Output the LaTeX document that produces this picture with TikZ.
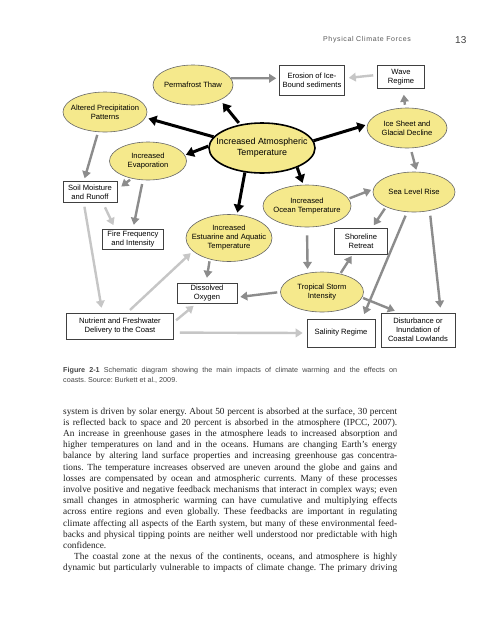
\documentclass[tikz,border=0pt]{standalone}
\usepackage{fontspec}
\setmainfont{Liberation Serif}
\setsansfont{Liberation Sans}
\newfontfamily\headfont[LetterSpace=9]{Liberation Sans}
\usetikzlibrary{arrows.meta,shapes.geometric}
\frenchspacing

\definecolor{bubblefill}{RGB}{245,233,140}
\definecolor{midgray}{RGB}{140,140,140}
\definecolor{palegray}{RGB}{198,198,198}

\tikzset{
  bubble/.style={ellipse, draw=black!60, line width=0.6pt, fill=bubblefill, inner sep=0pt},
  hub/.style={bubble, draw=black, line width=1.6pt},
  lbl/.style={font=\sffamily\fontsize{7.6}{9}\selectfont, align=center, inner sep=0pt},
  box/.style={rectangle, draw=black!75, line width=0.6pt, fill=white, inner sep=0pt,
    align=center, font=\sffamily\fontsize{7.6}{9}\selectfont},
  strong/.style={-{Triangle[length=8pt,width=10pt]}, line width=3pt, draw=black},
  mid/.style={-{Triangle[length=7pt,width=8.5pt]}, line width=2.4pt, draw=midgray},
  faint/.style={mid, draw=palegray},
  textline/.style={anchor=base west, inner sep=0pt}
}

\begin{document}
\begin{tikzpicture}[x=1pt,y=-1pt]
  \useasboundingbox (0,0) rectangle (500,625);
  \fill[white] (0,0) rectangle (500,625);

  \node[textline, text=black!65, font=\headfont\fontsize{7}{8}\selectfont] (runhead) at (323,41.5) {Physical Climate Forces};
  \node[textline, text=black!75, font=\sffamily\fontsize{10}{12}\selectfont] (folio) at (455,43) {13};

  % ellipses
  \node[hub, minimum width=106pt, minimum height=50pt,
    label={[lbl, font=\sffamily\fontsize{8.9}{11}\selectfont]center:{Increased Atmospheric\\Temperature}}] (atmos) at (262,148) {};
  \node[bubble, minimum width=80pt, minimum height=40pt, label={[lbl]center:Permafrost Thaw}] (perma) at (193,85) {};
  \node[bubble, minimum width=84pt, minimum height=40pt, label={[lbl]center:{Altered Precipitation\\Patterns}}] (precip) at (105,112) {};
  \node[bubble, minimum width=77pt, minimum height=38pt, label={[lbl]center:{Increased\\Evaporation}}] (evap) at (148,161) {};
  \node[bubble, minimum width=88pt, minimum height=42pt, label={[lbl]center:{Increased\\Ocean Temperature}}] (ocean) at (307,206) {};
  \node[bubble, minimum width=86pt, minimum height=47pt, label={[lbl]center:{Increased\\Estuarine and Aquatic\\Temperature}}] (estu) at (229,238) {};
  \node[bubble, minimum width=82pt, minimum height=40pt, label={[lbl]center:Sea Level Rise}] (sea) at (414,192) {};
  \node[bubble, minimum width=80pt, minimum height=40pt, label={[lbl]center:{Ice Sheet and\\Glacial Decline}}] (ice) at (407,128) {};
  \node[bubble, minimum width=83pt, minimum height=40pt, label={[lbl]center:{Tropical Storm\\Intensity}}] (storm) at (322,292) {};

  % boxes
  \node[box, minimum width=65pt, minimum height=30pt] (erosion) at (312,80) {Erosion of Ice-\\Bound sediments};
  \node[box, minimum width=47pt, minimum height=23pt] (wave) at (401,77) {Wave\\Regime};
  \node[box, minimum width=54pt, minimum height=21pt] (soil) at (90,192) {Soil Moisture\\and Runoff};
  \node[box, minimum width=61pt, minimum height=20pt] (fire) at (133,239) {Fire Frequency\\and Intensity};
  \node[box, minimum width=60pt, minimum height=20pt] (oxygen) at (207,293) {Dissolved\\Oxygen};
  \node[box, minimum width=53pt, minimum height=26pt] (shore) at (361,241) {Shoreline\\Retreat};
  \node[box, minimum width=107pt, minimum height=26pt] (nutrient) at (120,326) {Nutrient and Freshwater\\Delivery to the Coast};
  \node[box, minimum width=68pt, minimum height=28pt] (salinity) at (341,333) {Salinity Regime};
  \node[box, minimum width=74pt, minimum height=34pt] (disturb) at (418,330) {Disturbance or\\Inundation of\\Coastal Lowlands};

  % black arrows
  \draw[strong, shorten <=2pt, shorten >=4pt] (atmos.133) -- (perma.-29);
  \draw[strong, shorten >=3pt] (atmos.167) -- (precip.-8);
  \draw[strong, shorten >=1pt] (atmos.178) -- (evap.9);
  \draw[strong, shorten >=2pt] (atmos.8) -- (ice.175);
  \draw[strong, shorten >=2pt] (atmos.-29) -- (ocean.100);
  \draw[strong, shorten >=2pt] (atmos.-125) -- (estu.71);

  % gray arrows
  \draw[mid, shorten >=3pt] (perma.10) -- (erosion.177);
  \draw[mid, shorten <=3pt, shorten >=3pt] (precip.-109) -- (soil.120);
  \draw[mid, shorten <=2pt, shorten >=5pt] (evap.-133) -- (soil.5);
  \draw[mid, shorten <=4pt, shorten >=4pt] (evap.-105) -- (fire.north);
  \draw[mid, shorten <=2pt, shorten >=5pt] (estu.-132) -- (oxygen.95);
  \draw[mid, shorten <=3pt, shorten >=3pt] (storm.180) -- (oxygen.-8);
  \draw[mid, shorten <=8pt, shorten >=4pt] (ocean.-90) -- (storm.127);
  \draw[mid, shorten <=1pt, shorten >=2pt] (ocean.10) -- (sea.176);
  \draw[mid, shorten <=1pt, shorten >=2pt] (storm.45) -- (shore.-122);
  \draw[mid, shorten <=2pt, shorten >=3pt] (sea.-152) -- (shore.50);
  \draw[mid, shorten <=4pt, shorten >=5pt] (sea.-109) -- (salinity.34);
  \draw[mid, shorten <=5pt, shorten >=5pt] (sea.-50) -- (disturb.37);
  \draw[mid, shorten <=1pt, shorten >=5pt] (storm.-8) -- (disturb.137);
  \draw[mid, shorten <=3pt, shorten >=6pt] (ice.95) -- (wave.-80);
  \draw[mid, shorten <=4pt, shorten >=2pt] (ice.-80) -- (sea.82);

  % light gray arrows
  \draw[faint, shorten <=5pt, shorten >=4pt] (soil.-40) -- (fire.150);
  \draw[faint, shorten <=4pt, shorten >=5pt] (soil.-120) -- (nutrient.143);
  \draw[faint, shorten <=4pt, shorten >=3pt] (nutrient.62) -- (estu.-160);
  \draw[faint, shorten <=3pt, shorten >=4pt] (nutrient.4) -- (oxygen.-135);
  \draw[faint, shorten <=6pt, shorten >=4pt] (nutrient.-7) -- (salinity.west);
  \draw[faint, shorten <=4pt, shorten >=4pt] (wave.175) -- (erosion.3);

  % caption
  \node[textline, text=black!72, font=\sffamily\fontsize{7.2}{9}\selectfont] (cap1) at (63,372.5)
    {\makebox[334pt][s]{\textbf{Figure 2-1} Schematic diagram showing the main impacts of climate warming and the effects on}};
  \node[textline, text=black!72, font=\sffamily\fontsize{7.2}{9}\selectfont] (cap2) at (63,382)
    {coasts. Source: Burkett et al., 2009.};

  % body text
  \foreach \txt [count=\i] in {
    {system is driven by solar energy. About 50 percent is absorbed at the surface, 30 percent},
    {is reflected back to space and 20 percent is absorbed in the atmosphere (IPCC, 2007).},
    {An increase in greenhouse gases in the atmosphere leads to increased absorption and},
    {higher temperatures on land and in the oceans. Humans are changing Earth's energy},
    {balance by altering land surface properties and increasing greenhouse gas concentra-},
    {tions. The temperature increases observed are uneven around the globe and gains and},
    {losses are compensated by ocean and atmospheric currents. Many of these processes},
    {involve positive and negative feedback mechanisms that interact in complex ways; even},
    {small changes in atmospheric warming can have cumulative and multiplying effects},
    {across entire regions and even globally. These feedbacks are important in regulating},
    {climate affecting all aspects of the Earth system, but many of these environmental feed-},
    {backs and physical tipping points are neither well understood nor predictable with high},
    {confidence.\hfill},
    {\hspace*{11pt}The coastal zone at the nexus of the continents, oceans, and atmosphere is highly},
    {dynamic but particularly vulnerable to impacts of climate change. The primary driving}}
    \node[textline, text=black!88, font=\fontsize{9.3}{11}\selectfont] (body\i) at (63,{414+(\i-1)*11.2})
      {\makebox[334pt][s]{\txt}};
\end{tikzpicture}
\end{document}
